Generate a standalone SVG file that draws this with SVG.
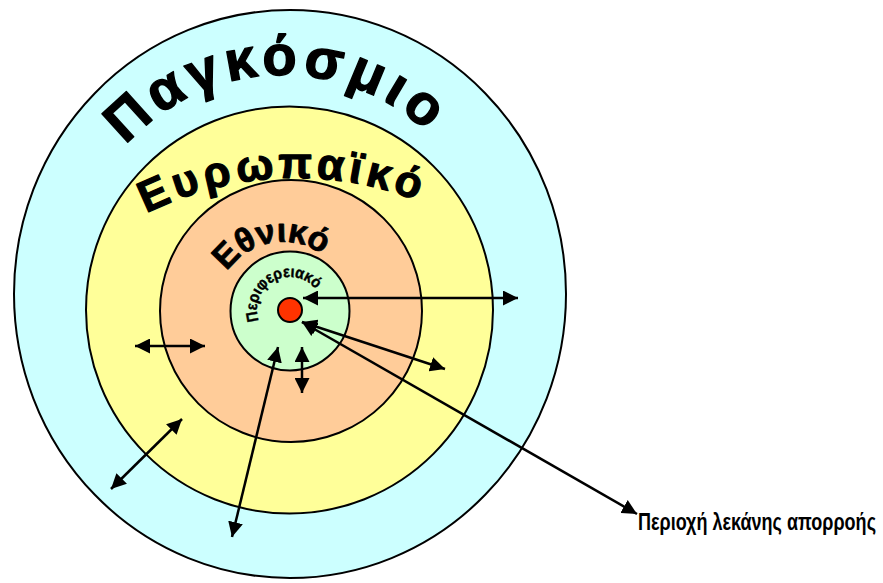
<svg xmlns="http://www.w3.org/2000/svg" xmlns:xlink="http://www.w3.org/1999/xlink" width="883" height="583" viewBox="0 0 883 583">
<style>
.ring{stroke:#000;stroke-width:2}
.arc{fill:none;stroke:none}
.big{font-family:"Liberation Sans",Arial,sans-serif;font-weight:bold;fill:#000;stroke:#000;stroke-linejoin:round}
.con line{stroke:#000;stroke-width:2.5}
.lbl{font-family:"Liberation Sans Narrow","Liberation Sans",Arial,sans-serif;font-size:19.5px;font-weight:bold;fill:#000}
</style>
<defs>
<marker id="ah" markerWidth="15" markerHeight="15" refX="15" refY="7.5" orient="auto-start-reverse" markerUnits="userSpaceOnUse" viewBox="0 0 15 15">
<path d="M0,0 L15,7.5 L0,15 z" fill="#000"/>
</marker>
<path id="p1" class="arc" d="M73.13,277.67 A210,210 0 0 1 490.96,255.77"/>
<path id="p2" class="arc" d="M-35.8,498.41 A332,332 0 0 1 624.77,463.79"/>
<path id="p3" class="arc" d="M215.26,315.93 A68,68 0 0 1 348.68,292.4"/>
<path id="p4" class="arc" d="M259.85,323.43 A33,33 0 0 1 317.36,291.55"/>
</defs>
<g id="global">
<ellipse class="ring" cx="290" cy="294" rx="276" ry="284" fill="#CCFFFF"/>
<text class="big" font-size="56" letter-spacing="5.4" stroke-width="1.4"><textPath xlink:href="#p1" href="#p1" startOffset="50.6%" text-anchor="middle">Παγκόσμιο</textPath></text>
</g>
<g id="european">
<circle class="ring" cx="289.5" cy="310" r="203.5" fill="#FFFF99"/>
<text class="big" font-size="44" letter-spacing="4.9" stroke-width="1.2"><textPath xlink:href="#p2" href="#p2" startOffset="50.4%" text-anchor="middle">Ευρωπαϊκό</textPath></text>
</g>
<g id="national">
<circle class="ring" cx="291" cy="311" r="131" fill="#FFCC99"/>
<text class="big" font-size="34" stroke-width="0.8"><textPath xlink:href="#p3" href="#p3" startOffset="50%" text-anchor="middle">Εθνικό</textPath></text>
</g>
<g id="regional">
<circle class="ring" cx="290" cy="311" r="59.5" fill="#CCFFCC"/>
<text class="big" font-size="16" stroke-width="0.4"><textPath xlink:href="#p4" href="#p4" startOffset="50%" text-anchor="middle" textLength="92" lengthAdjust="spacingAndGlyphs">Περιφερειακό</textPath></text>
</g>
<g id="basin">
<circle class="ring" cx="290" cy="310" r="12" fill="#FF3300"/>
</g>
<g id="connectors" class="con">
<line x1="303" y1="298" x2="518" y2="298" marker-start="url(#ah)" marker-end="url(#ah)"/>
<line x1="302" y1="322" x2="445" y2="369" marker-start="url(#ah)" marker-end="url(#ah)"/>
<line x1="302" y1="322" x2="637" y2="514" marker-start="url(#ah)" marker-end="url(#ah)"/>
<line x1="135" y1="346" x2="205" y2="346" marker-start="url(#ah)" marker-end="url(#ah)"/>
<line x1="111" y1="489" x2="182" y2="419" marker-start="url(#ah)" marker-end="url(#ah)"/>
<line x1="278" y1="347" x2="232" y2="537" marker-start="url(#ah)" marker-end="url(#ah)"/>
<line x1="302" y1="347" x2="302" y2="393" marker-start="url(#ah)" marker-end="url(#ah)"/>
</g>
<g id="label" transform="translate(638,530) scale(1,1.22)">
<text class="lbl" x="0" y="0" textLength="238" lengthAdjust="spacingAndGlyphs">Περιοχή λεκάνης απορροής</text>
</g>
</svg>
